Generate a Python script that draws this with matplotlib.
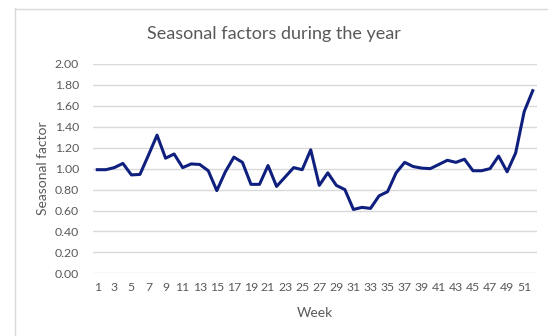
import matplotlib
matplotlib.use("Agg")
import matplotlib.pyplot as plt
from matplotlib.lines import Line2D

weeks = list(range(1, 53))
seasonal_factor = [
    0.99, 0.99, 1.01, 1.05, 0.94, 0.945, 1.13, 1.32, 1.10, 1.14,
    1.01, 1.045, 1.04, 0.98, 0.79, 0.97, 1.11, 1.06, 0.85, 0.85,
    1.03, 0.83, 0.92, 1.01, 0.99, 1.18, 0.84, 0.96, 0.84, 0.80,
    0.61, 0.63, 0.62, 0.74, 0.78, 0.96, 1.06, 1.02, 1.005, 1.00,
    1.04, 1.08, 1.06, 1.09, 0.98, 0.98, 1.00, 1.12, 0.97, 1.15,
    1.545, 1.745,
]
week_ticks = list(range(1, 52, 2))
y_ticks = [0.0, 0.2, 0.4, 0.6, 0.8, 1.0, 1.2, 1.4, 1.6, 1.8, 2.0]

plt.rcParams["font.family"] = ["Lato", "DejaVu Sans"]
text_color = "#595959"
grid_color = "#d9d9d9"

fig = plt.figure(figsize=(5.48, 3.36), dpi=100)
fig.patch.set_facecolor("white")

# chart-area frame (left and top edges)
fig.add_artist(Line2D([14.5 / 548, 14.5 / 548], [0, 1 - 8 / 336],
                      transform=fig.transFigure, color=grid_color, lw=1))
fig.add_artist(Line2D([14.5 / 548, 1], [1 - 8.5 / 336, 1 - 8.5 / 336],
                      transform=fig.transFigure, color=grid_color, lw=1))

ax = fig.add_axes([93 / 548, 1 - 273.3 / 336, (537 - 93) / 548, (273.3 - 64) / 336])
ax.plot(weeks, seasonal_factor, color="#0f1f7e", lw=2.2, solid_joinstyle="round")

ax.set_xlim(0.5, 52.5)
ax.set_ylim(0, 2.0)
ax.set_yticks(y_ticks)
ax.set_yticklabels([f"{v:.2f}" for v in y_ticks])
ax.set_xticks(week_ticks)
ax.set_xticklabels([str(w) for w in week_ticks])
ax.grid(axis="y", color=grid_color, lw=1)
ax.set_axisbelow(True)
for s in ax.spines.values():
    s.set_visible(False)
ax.tick_params(axis="both", length=0, colors=text_color, labelsize=8.8)
ax.tick_params(axis="y", pad=10)
ax.tick_params(axis="x", pad=6)

ax.set_xlabel("Week", color=text_color, fontsize=10, labelpad=10)
ax.set_ylabel("Seasonal factor", color=text_color, fontsize=10, labelpad=4)
fig.text(0.5 * (148 + 400) / 548, 1 - 34 / 336, "Seasonal factors during the year",
         ha="center", va="center", color=text_color, fontsize=13)

fig.savefig("out.png", dpi=100)
